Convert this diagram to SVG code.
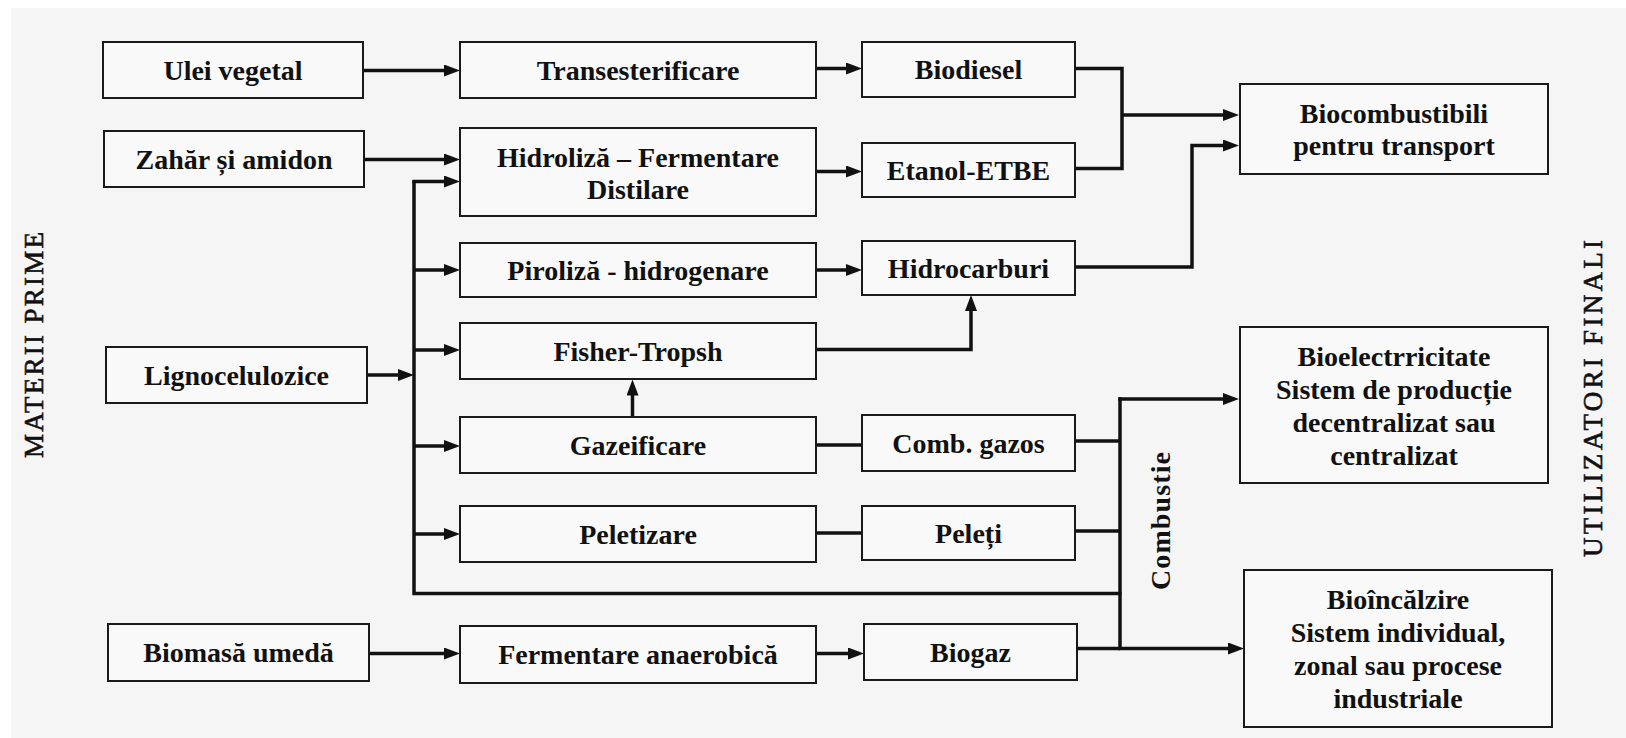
<svg xmlns="http://www.w3.org/2000/svg" width="1626" height="738" viewBox="0 0 1626 738">
<style>
.box{fill:#f9f9f9;stroke:#1a1a1a;stroke-width:2}
.t{font-family:"Liberation Serif","Times New Roman",serif;font-weight:bold;font-size:28px;fill:#111;text-anchor:middle}
.side{font-family:"Liberation Serif","Times New Roman",serif;font-size:27px;fill:#111;stroke:#111;stroke-width:0.6;text-anchor:middle}
.c{fill:none;stroke:#111;stroke-width:3.5}
.a{fill:none;stroke:#111;stroke-width:3.5;marker-end:url(#ah)}
</style>
<defs>
<marker id="ah" markerUnits="userSpaceOnUse" markerWidth="16" markerHeight="12" refX="8" refY="6" orient="auto">
<path d="M0,0 L16,6 L0,12 z" fill="#111"/>
</marker>
</defs>
<rect x="0" y="0" width="1626" height="738" fill="#ffffff"/>
<rect x="11" y="8" width="1615" height="730" fill="#f5f5f5"/>

<g id="connectors">
<path class="a" d="M363,70.5 H452"/>
<path class="a" d="M816,68.5 H854"/>
<path class="a" d="M364,159.5 H452"/>
<path class="a" d="M816,171.5 H854"/>
<path class="a" d="M816,270 H854"/>
<path class="c" d="M1075,68.5 H1122 V168.5 H1075"/>
<path class="a" d="M1122,115 H1231"/>
<path class="a" d="M1075,267 H1192 V145.5 H1231"/>
<path class="a" d="M816,349.5 H971 V303"/>
<path class="a" d="M632.5,417 V387.5"/>
<path class="a" d="M367,375 H406"/>
<path class="c" d="M414,181.5 V593.5 H1121.5"/>
<path class="a" d="M412.25,181.5 H452"/>
<path class="a" d="M414,270 H452"/>
<path class="a" d="M414,350 H452"/>
<path class="a" d="M414,446 H452"/>
<path class="a" d="M414,534 H452"/>
<path class="c" d="M816,445 H862"/>
<path class="c" d="M816,533 H862"/>
<path class="c" d="M1075,441 H1120"/>
<path class="c" d="M1075,531 H1120"/>
<path class="a" d="M1120,397.25 V648.5 H1236"/>
<path class="c" d="M1077,648.5 H1120"/>
<path class="a" d="M1118.25,399 H1231"/>
<path class="a" d="M369,653.5 H452"/>
<path class="a" d="M816,653.5 H856"/>
</g>

<g id="ulei"><rect class="box" x="103" y="42" width="260" height="56"/><text class="t" x="233" y="80">Ulei vegetal</text></g>
<g id="zahar"><rect class="box" x="104" y="131" width="260" height="56"/><text class="t" x="234" y="169">Zahăr și amidon</text></g>
<g id="ligno"><rect class="box" x="106" y="347" width="261" height="56"/><text class="t" x="236.5" y="385">Lignocelulozice</text></g>
<g id="biomasa"><rect class="box" x="108" y="624" width="261" height="57"/><text class="t" x="238.5" y="662">Biomasă umedă</text></g>

<g id="trans"><rect class="box" x="460" y="42" width="356" height="56"/><text class="t" x="638" y="80">Transesterificare</text></g>
<g id="hidroliza"><rect class="box" x="460" y="128" width="356" height="88"/><text class="t" x="638" y="167">Hidroliză – Fermentare</text><text class="t" x="638" y="199">Distilare</text></g>
<g id="piroliza"><rect class="box" x="460" y="243" width="356" height="54"/><text class="t" x="638" y="280">Piroliză - hidrogenare</text></g>
<g id="fisher"><rect class="box" x="460" y="323" width="356" height="56"/><text class="t" x="638" y="361">Fisher-Tropsh</text></g>
<g id="gazeificare"><rect class="box" x="460" y="417" width="356" height="56"/><text class="t" x="638" y="455">Gazeificare</text></g>
<g id="peletizare"><rect class="box" x="460" y="506" width="356" height="56"/><text class="t" x="638" y="544">Peletizare</text></g>
<g id="fermentare"><rect class="box" x="460" y="626" width="356" height="57"/><text class="t" x="638" y="664">Fermentare anaerobică</text></g>

<g id="biodiesel"><rect class="box" x="862" y="42" width="213" height="55"/><text class="t" x="968.5" y="79">Biodiesel</text></g>
<g id="etanol"><rect class="box" x="862" y="143" width="213" height="54"/><text class="t" x="968.5" y="180">Etanol-ETBE</text></g>
<g id="hidrocarburi"><rect class="box" x="862" y="241" width="213" height="54"/><text class="t" x="968.5" y="278">Hidrocarburi</text></g>
<g id="combgazos"><rect class="box" x="862" y="415" width="213" height="56"/><text class="t" x="968.5" y="453">Comb. gazos</text></g>
<g id="peleti"><rect class="box" x="862" y="506" width="213" height="54"/><text class="t" x="968.5" y="543">Peleți</text></g>
<g id="biogaz"><rect class="box" x="864" y="624" width="213" height="56"/><text class="t" x="970.5" y="662">Biogaz</text></g>

<g id="biocomb"><rect class="box" x="1240" y="84" width="308" height="90"/><text class="t" x="1394" y="123">Biocombustibili</text><text class="t" x="1394" y="155">pentru transport</text></g>
<g id="bioelec"><rect class="box" x="1240" y="327" width="308" height="156"/><text class="t" x="1394" y="366">Bioelectrricitate</text><text class="t" x="1394" y="399">Sistem de producție</text><text class="t" x="1394" y="432">decentralizat sau</text><text class="t" x="1394" y="465">centralizat</text></g>
<g id="bioinc"><rect class="box" x="1244" y="570" width="308" height="157"/><text class="t" x="1398" y="609">Bioîncălzire</text><text class="t" x="1398" y="642">Sistem individual,</text><text class="t" x="1398" y="675">zonal sau procese</text><text class="t" x="1398" y="708">industriale</text></g>

<g id="combustie"><text class="t" transform="translate(1170,521) rotate(-90)" x="0" y="0" textLength="138" lengthAdjust="spacing">Combustie</text></g>
<g id="materii"><text class="side" transform="translate(43,345) rotate(-90)" x="0" y="0" textLength="226" lengthAdjust="spacing">MATERII PRIME</text></g>
<g id="utilizatori"><text class="side" transform="translate(1602,398.5) rotate(-90)" x="0" y="0" textLength="317" lengthAdjust="spacing">UTILIZATORI FINALI</text></g>
</svg>
